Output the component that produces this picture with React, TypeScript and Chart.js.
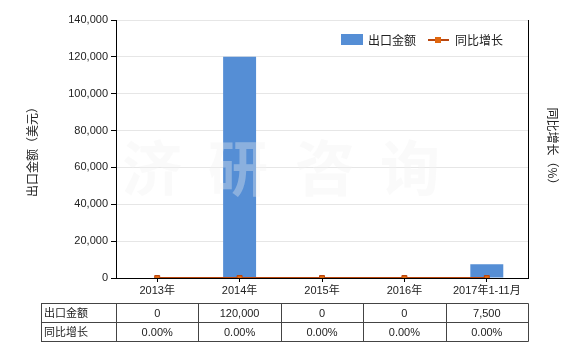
import React, { useEffect, useRef } from "react";
import { Chart, registerables } from "chart.js";

Chart.register(...registerables);

const categories = ["2013年", "2014年", "2015年", "2016年", "2017年1-11月"];
const exportValues = [0, 120000, 0, 0, 7500];
const growthValues = [0, 0, 0, 0, 0];
const exportLabels = ["0", "120,000", "0", "0", "7,500"];
const growthLabels = ["0.00%", "0.00%", "0.00%", "0.00%", "0.00%"];
const yTicksMax = 140000;
const yTickStep = 20000;

const FONT = "'Liberation Sans', 'Noto Sans CJK SC', sans-serif";
const BAR_COLOR = "#558ed5";
const LINE_COLOR = "#b9470f";
const MARKER_COLOR = "#e0670f";

const overlayPlugin = {
  id: "overlay",
  afterDatasetsDraw(chart: any) {
    const ctx = chart.ctx;
    ctx.save();
    ctx.font = `bold 60px 'Noto Sans CJK SC', sans-serif`;
    ctx.fillStyle = "rgba(240,240,240,0.35)";
    ctx.textAlign = "center";
    ctx.textBaseline = "middle";
    const wm = ["济", "研", "咨", "询"];
    const cx = [152, 238, 325, 410];
    wm.forEach((c, i) => ctx.fillText(c, cx[i], 168));
    ctx.restore();
  },
  afterDraw(chart: any) {
    const ctx = chart.ctx;
    const area = chart.chartArea;
    ctx.save();
    // legend
    ctx.fillStyle = BAR_COLOR;
    ctx.fillRect(341, 34, 22, 11);
    ctx.font = `12px 'Noto Sans CJK SC', sans-serif`;
    ctx.fillStyle = "#222";
    ctx.textBaseline = "middle";
    ctx.textAlign = "left";
    ctx.fillText("出口金额", 368, 40);
    ctx.strokeStyle = LINE_COLOR;
    ctx.lineWidth = 2;
    ctx.beginPath();
    ctx.moveTo(428, 40);
    ctx.lineTo(449, 40);
    ctx.stroke();
    ctx.fillStyle = MARKER_COLOR;
    ctx.fillRect(435, 37, 6, 6);
    ctx.fillStyle = "#222";
    ctx.fillText("同比增长", 455, 40);

    // table
    const left = 41;
    const colW = (area.right - area.left) / categories.length;
    const xs = [left, area.left];
    for (let i = 1; i <= categories.length; i++) xs.push(area.left + colW * i);
    const ys = [303, 322, 341];
    ctx.strokeStyle = "#444";
    ctx.lineWidth = 1;
    ctx.beginPath();
    ys.forEach((y) => {
      ctx.moveTo(left, Math.round(y) + 0.5);
      ctx.lineTo(Math.round(area.right) + 0.5, Math.round(y) + 0.5);
    });
    xs.forEach((x) => {
      ctx.moveTo(Math.round(x) + 0.5, ys[0] + 0.5);
      ctx.lineTo(Math.round(x) + 0.5, ys[2] + 0.5);
    });
    ctx.stroke();
    ctx.fillStyle = "#222";
    ctx.font = `11px 'Noto Sans CJK SC', sans-serif`;
    ctx.textAlign = "left";
    ctx.fillText("出口金额", left + 3, (ys[0] + ys[1]) / 2);
    ctx.fillText("同比增长", left + 3, (ys[1] + ys[2]) / 2);
    ctx.font = `11px ${FONT}`;
    ctx.textAlign = "center";
    for (let i = 0; i < categories.length; i++) {
      const cx = area.left + colW * (i + 0.5);
      ctx.fillText(exportLabels[i], cx, (ys[0] + ys[1]) / 2 + 1);
      ctx.fillText(growthLabels[i], cx, (ys[1] + ys[2]) / 2 + 1);
    }
    ctx.restore();
  },
};

export default function App() {
  const ref = useRef<HTMLCanvasElement>(null);
  useEffect(() => {
    document.body.style.margin = "0";
    const chart = new Chart(ref.current as HTMLCanvasElement, {
      type: "bar",
      data: {
        labels: categories,
        datasets: [
          {
            type: "line",
            label: "同比增长",
            data: growthValues,
            yAxisID: "y1",
            borderColor: LINE_COLOR,
            backgroundColor: MARKER_COLOR,
            borderWidth: 2,
            pointStyle: "rect",
            pointRadius: 3.5,
            pointBorderColor: LINE_COLOR,
            pointBorderWidth: 1,
            order: 0,
          } as any,
          {
            type: "bar",
            label: "出口金额",
            data: exportValues,
            yAxisID: "y",
            backgroundColor: BAR_COLOR,
            barPercentage: 0.8,
            categoryPercentage: 0.5,
            order: 1,
          },
        ],
      },
      plugins: [overlayPlugin],
      options: {
        animation: false,
        responsive: false,
        layout: { padding: { left: 21, right: 16, top: 20, bottom: 50 } },
        plugins: { legend: { display: false }, tooltip: { enabled: false } },
        scales: {
          x: {
            grid: { display: true, drawOnChartArea: false, offset: false, tickLength: 4, color: "#000" },
            border: { color: "#000", width: 1 },
            ticks: { font: { size: 11, family: FONT }, color: "#222", padding: 2, maxRotation: 0 },
            afterFit(scale: any) {
              scale.height = 22;
            },
          },
          y: {
            position: "left",
            min: 0,
            max: yTicksMax,
            ticks: {
              stepSize: yTickStep,
              font: { size: 11, family: FONT },
              color: "#222",
              padding: 3,
              callback: (v: any) => Number(v).toLocaleString("en-US"),
            },
            grid: { color: "#e6e6e6", tickColor: "#000", tickLength: 5 },
            border: { color: "#000", width: 1 },
            title: {
              display: true,
              text: "出口金额（美元）",
              font: { size: 12, family: "'Noto Sans CJK SC', sans-serif" },
              color: "#222",
            },
            afterFit(scale: any) {
              scale.width = 95;
            },
          },
          y1: {
            position: "right",
            min: 0,
            max: 1,
            ticks: { display: false },
            grid: { drawOnChartArea: false, drawTicks: false },
            border: { color: "#000", width: 1 },
            title: {
              display: true,
              text: "同比增长（%）",
              font: { size: 12, family: "'Noto Sans CJK SC', sans-serif" },
              color: "#222",
            },
            afterFit(scale: any) {
              scale.width = 36;
            },
          },
        },
      },
    });
    return () => chart.destroy();
  }, []);
  return <canvas ref={ref} width={580} height={350} />;
}
